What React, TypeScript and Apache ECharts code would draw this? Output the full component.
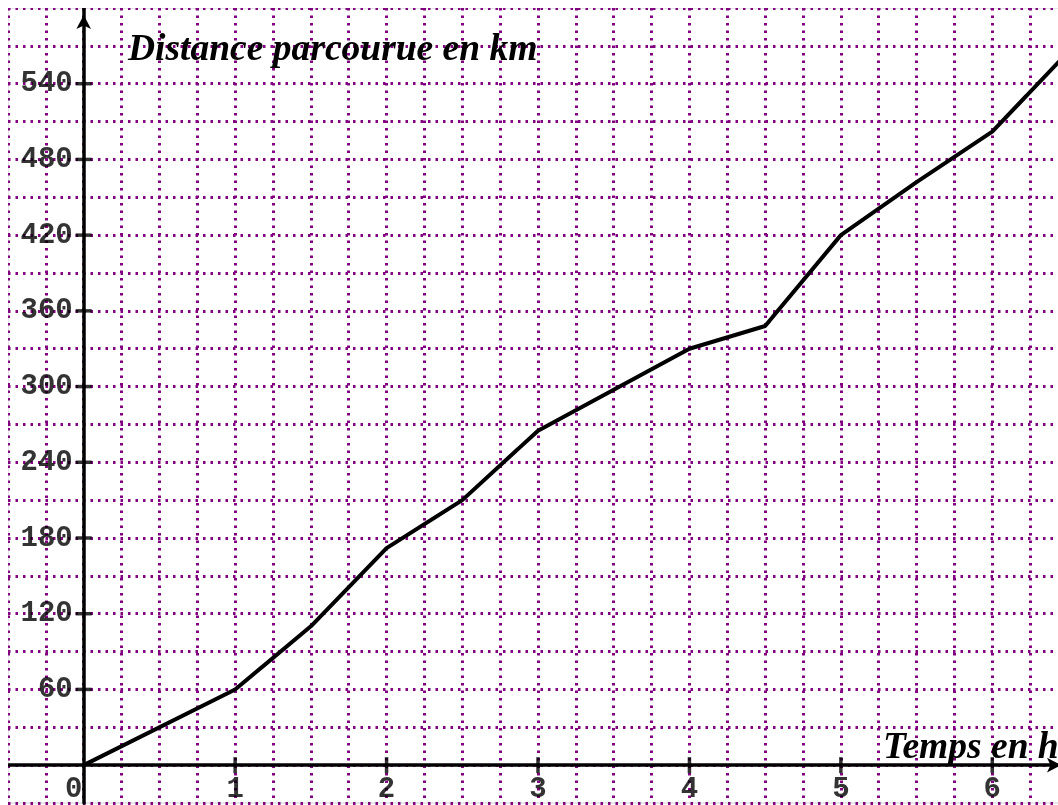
import React, { useEffect, useRef } from "react";
import * as echarts from "echarts";

const hours = [0, 1, 1.5, 2, 2.5, 3, 4, 4.5, 5, 5.5, 6, 6.5];
const distances = [0, 60, 110, 172, 210, 265, 330, 348, 420, 462, 502, 565];
const xTickValues = [1, 2, 3, 4, 5, 6];
const yTickValues = [60, 120, 180, 240, 300, 360, 420, 480, 540];
const originLabel = "0";
const yTitle = "Distance parcourue en km";
const xTitle = "Temps en h";

const gridDot = { color: "#800080", width: 3, type: [2.5, 5] as number[], cap: "butt" as const };
const tickFont = { fontFamily: "Liberation Mono", fontWeight: "bold" as const, fontSize: 29, color: "#000" };
const titleFont = 'italic bold 37.5px "Liberation Serif"';

export default function App() {
  const ref = useRef<HTMLDivElement>(null);
  useEffect(() => {
    if (!ref.current) return;
    const chart = echarts.init(ref.current, undefined, { renderer: "svg" });
    chart.setOption({
      animation: false,
      grid: {
        left: 0,
        top: 0,
        width: 1060,
        height: 795,
        show: true,
        borderColor: "#cfcfcf",
        borderWidth: 1,
        backgroundColor: "transparent",
      },
      xAxis: {
        type: "value",
        min: -0.5,
        max: 6.5,
        interval: 0.25,
        axisLine: {
          show: true,
          onZero: true,
          symbol: ["none", "arrow"],
          symbolSize: [11, 14],
          symbolOffset: [0, -7],
          lineStyle: { color: "#000", width: 3.5 },
        },
        axisTick: { show: false },
        axisLabel: { show: false },
        splitLine: { show: true, lineStyle: gridDot },
      },
      yAxis: {
        type: "value",
        min: -30,
        max: 600,
        interval: 30,
        axisLine: {
          show: true,
          onZero: true,
          symbol: ["none", "arrow"],
          symbolSize: [11, 14],
          symbolOffset: [0, -7],
          lineStyle: { color: "#000", width: 3.5 },
        },
        axisTick: { show: false },
        axisLabel: { show: false },
        splitLine: { show: true, lineStyle: gridDot },
      },
      graphic: [
        {
          type: "text",
          left: 120,
          top: 20,
          style: { text: yTitle, font: titleFont, fill: "#000" },
          z: 10,
        },
        {
          type: "text",
          left: 875,
          top: 718,
          style: { text: xTitle, font: titleFont, fill: "#000" },
          z: 10,
        },
      ],
      series: [
        {
          type: "line",
          data: hours.map((h, i) => [h, distances[i]]),
          showSymbol: false,
          symbol: "none",
          lineStyle: { color: "#000", width: 4 },
          z: 5,
          silent: true,
        },
        {
          type: "scatter",
          data: xTickValues.map((v) => [v, 0]),
          symbol: "rect",
          symbolSize: [3.5, 16],
          itemStyle: { color: "#000" },
          label: {
            show: true,
            position: "bottom",
            distance: 2,
            formatter: (p: any) => String(p.value[0]),
            ...tickFont,
          },
          z: 10,
          silent: true,
        },
        {
          type: "scatter",
          data: yTickValues.map((v) => [0, v]),
          symbol: "rect",
          symbolSize: [16, 3.5],
          itemStyle: { color: "#000" },
          label: {
            show: true,
            position: "left",
            distance: 3,
            formatter: (p: any) => String(p.value[1]),
            ...tickFont,
          },
          z: 10,
          silent: true,
        },
        {
          type: "scatter",
          data: [[0, 0]],
          symbolSize: 0,
          itemStyle: { color: "transparent" },
          label: {
            show: true,
            position: "bottom",
            distance: 10,
            offset: [-10, 0],
            formatter: () => originLabel,
            ...tickFont,
          },
          z: 10,
          silent: true,
        },
      ],
    });
    return () => chart.dispose();
  }, []);
  return (
    <div
      style={{
        position: "fixed",
        left: 8,
        top: 8,
        width: 1050,
        height: 797,
        overflow: "hidden",
      }}
    >
      <div ref={ref} style={{ width: 1064, height: 797 }} />
    </div>
  );
}
